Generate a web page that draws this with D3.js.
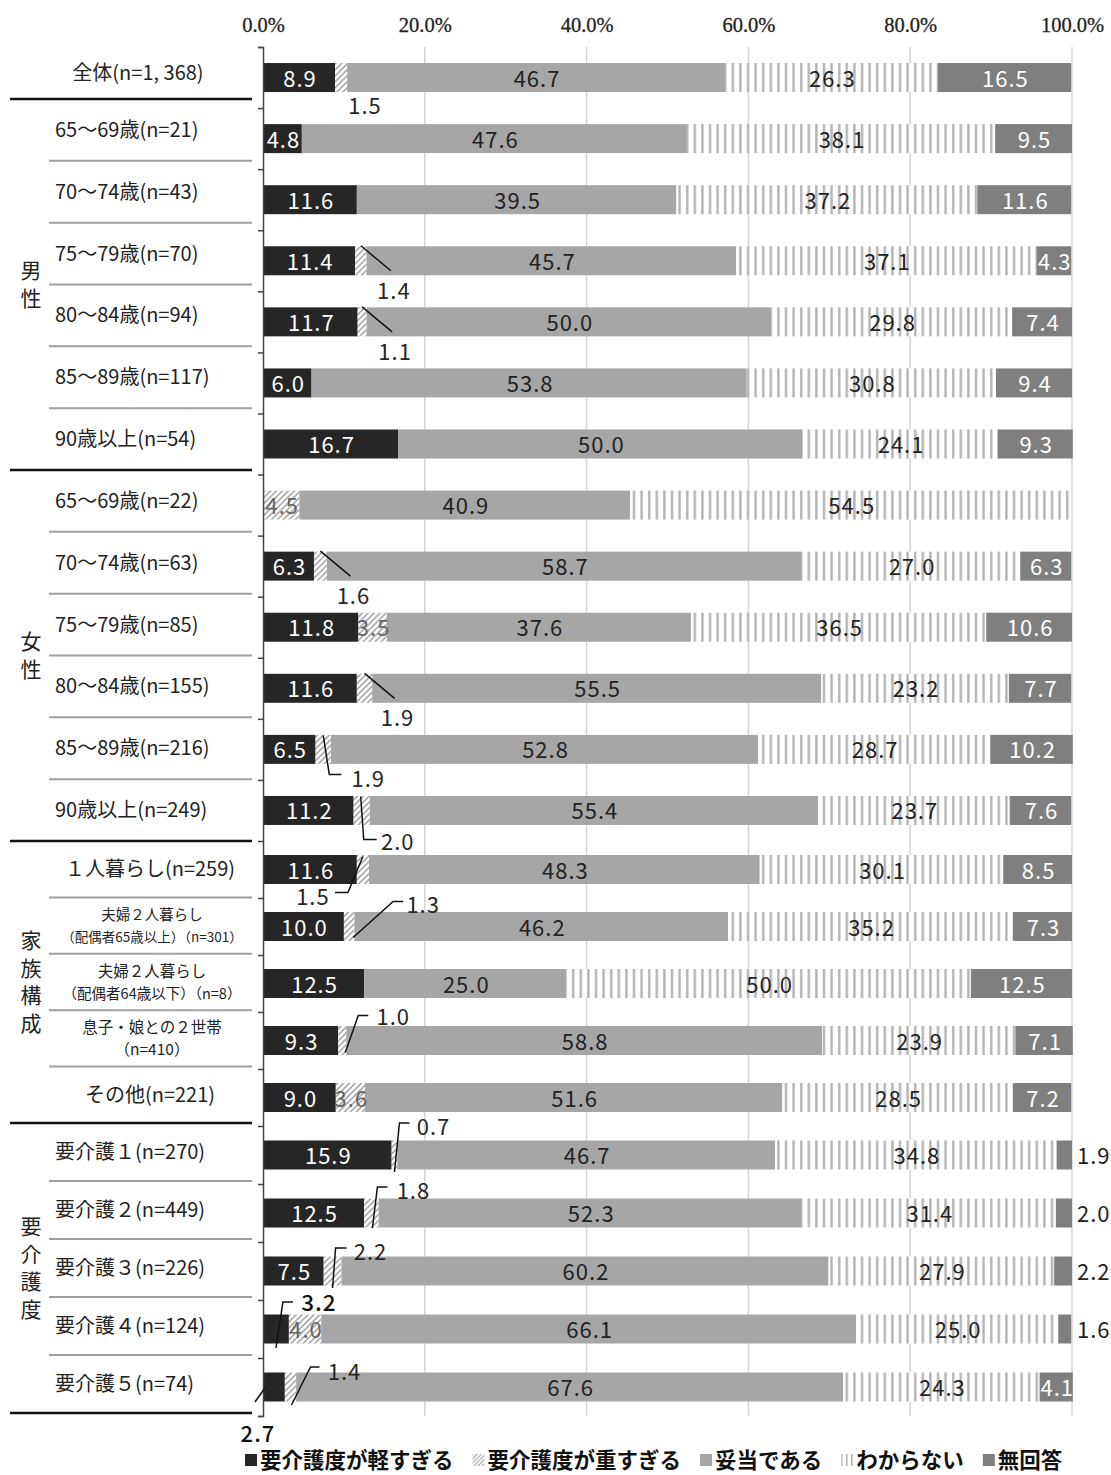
<!DOCTYPE html>
<html><head><meta charset="utf-8">
<script src="https://cdn.jsdelivr.net/npm/d3@7/dist/d3.min.js"></script>
<style>
html,body{margin:0;padding:0;background:#fff;}
svg{display:block;}
</style>
</head><body>
<svg id="chart" width="1111" height="1475"></svg>
<script>
// ---------------- DATA ----------------
const rowLabels = [
  "全体(n=1, 368)",
  "65～69歳(n=21)", "70～74歳(n=43)", "75～79歳(n=70)", "80～84歳(n=94)", "85～89歳(n=117)", "90歳以上(n=54)",
  "65～69歳(n=22)", "70～74歳(n=63)", "75～79歳(n=85)", "80～84歳(n=155)", "85～89歳(n=216)", "90歳以上(n=249)",
  "１人暮らし(n=259)", "夫婦２人暮らし|（配偶者65歳以上）（n=301）", "夫婦２人暮らし|（配偶者64歳以下）（n=8）",
  "息子・娘との２世帯|（n=410）", "その他(n=221)",
  "要介護１(n=270)", "要介護２(n=449)", "要介護３(n=226)", "要介護４(n=124)", "要介護５(n=74)"
];
const groupNames = ["男性", "女性", "家族構成", "要介護度"];
const groupFirstRow = [1, 7, 13, 18];
const groupLastRow  = [6, 12, 17, 22];

const seriesNames = ["要介護度が軽すぎる", "要介護度が重すぎる", "妥当である", "わからない", "無回答"];
const tooLight    = [8.9, 4.8, 11.6, 11.4, 11.7, 6.0, 16.7, 0,   6.3, 11.8, 11.6, 6.5, 11.2, 11.6, 10.0, 12.5, 9.3, 9.0, 15.9, 12.5, 7.5, 3.2, 2.7];
const tooHeavy    = [1.5, 0,   0,    1.4,  1.1,  0,   0,    4.5, 1.6, 3.5,  1.9,  1.9, 2.0,  1.5,  1.3,  0,    1.0, 3.6, 0.7,  1.8,  2.2, 4.0, 1.4];
const appropriate = [46.7, 47.6, 39.5, 45.7, 50.0, 53.8, 50.0, 40.9, 58.7, 37.6, 55.5, 52.8, 55.4, 48.3, 46.2, 25.0, 58.8, 51.6, 46.7, 52.3, 60.2, 66.1, 67.6];
const unknown     = [26.3, 38.1, 37.2, 37.1, 29.8, 30.8, 24.1, 54.5, 27.0, 36.5, 23.2, 28.7, 23.7, 30.1, 35.2, 50.0, 23.9, 28.5, 34.8, 31.4, 27.9, 25.0, 24.3];
const noAnswer    = [16.5, 9.5, 11.6, 4.3, 7.4, 9.4, 9.3, 0, 6.3, 10.6, 7.7, 10.2, 7.6, 8.5, 7.3, 12.5, 7.1, 7.2, 1.9, 2.0, 2.2, 1.6, 4.1];
const tickValues  = [0, 20, 40, 60, 80, 100];

// ---------------- LAYOUT ----------------
const svg = d3.select("#chart");
const JP = "'Noto Sans CJK JP','Noto Sans',sans-serif";
const x = d3.scaleLinear().domain([0, 100]).range([263, 1072]);
const yb = d3.scaleLinear().domain([0, 13, 18, 23]).range([47, 841, 1126, 1416]); // bar row boundaries
const yTable = d3.scaleLinear().domain([0, 1, 7, 13, 18, 23]).range([46, 99, 470, 841, 1123, 1413]); // table rows
const rowCenter = i => (yb(i) + yb(i + 1)) / 2;
const tableCenter = i => (yTable(i) + yTable(i + 1)) / 2;
const barH = 29;

const seriesData = [tooLight, tooHeavy, appropriate, unknown, noAnswer];
const colors = ["#262626", "url(#hatch)", "#a6a6a6", "url(#stripe)", "#7f7f7f"];
const legendSwatch = ["#262626", "url(#hatchL)", "#a6a6a6", "url(#stripeL)", "#7f7f7f"];

// patterns
const defs = svg.append("defs");
const hatch = defs.append("pattern").attr("id", "hatch").attr("patternUnits", "userSpaceOnUse")
  .attr("width", 4.2).attr("height", 4.2).attr("patternTransform", "rotate(45)");
hatch.append("rect").attr("width", 4.2).attr("height", 4.2).attr("fill", "#fff");
hatch.append("rect").attr("width", 1.6).attr("height", 4.2).attr("fill", "#a8a8a8");
const hatchL = defs.append("pattern").attr("id", "hatchL").attr("patternUnits", "userSpaceOnUse")
  .attr("width", 3).attr("height", 3).attr("patternTransform", "rotate(45)");
hatchL.append("rect").attr("width", 3).attr("height", 3).attr("fill", "#fff");
hatchL.append("rect").attr("width", 1.2).attr("height", 3).attr("fill", "#a8a8a8");
const stripe = defs.append("pattern").attr("id", "stripe").attr("patternUnits", "userSpaceOnUse")
  .attr("width", 7.6).attr("height", 10);
stripe.append("rect").attr("width", 7.6).attr("height", 10).attr("fill", "#fff");
stripe.append("rect").attr("x", 2).attr("width", 2.4).attr("height", 10).attr("fill", "#b3b3b3");
const stripeL = defs.append("pattern").attr("id", "stripeL").attr("patternUnits", "userSpaceOnUse")
  .attr("width", 5).attr("height", 10);
stripeL.append("rect").attr("width", 5).attr("height", 10).attr("fill", "#fff");
stripeL.append("rect").attr("x", 1).attr("width", 1.6).attr("height", 10).attr("fill", "#b3b3b3");

// gridlines
svg.append("g").selectAll("line").data(tickValues.filter(d => d > 0)).join("line")
  .attr("x1", d => x(d)).attr("x2", d => x(d))
  .attr("y1", yb(0)).attr("y2", yb(23))
  .attr("stroke", "#d4d4d4").attr("stroke-width", 1.5);

// top axis labels
const topAxis = svg.append("g").attr("transform", "translate(0,32)")
  .call(d3.axisTop(x).tickValues(tickValues).tickFormat(d => d.toFixed(1) + "%").tickSize(0));
topAxis.select(".domain").remove();
topAxis.selectAll("text").attr("font-family", "'Liberation Serif','DejaVu Serif',serif")
  .attr("font-size", 20.5).attr("fill", "#222").attr("dy", 0).attr("y", 0)
  .attr("stroke", "#222").attr("stroke-width", 0.3);

// stacked data
const stacked = rowLabels.map((lab, i) => {
  let acc = 0;
  return seriesData.map((arr, s) => {
    const v = arr[i];
    const seg = { row: i, s, v, x0: acc, x1: acc + v };
    acc += v;
    return seg;
  });
});

// bars
const barG = svg.append("g");
barG.selectAll("g").data(stacked).join("g")
  .selectAll("rect").data(d => d.filter(e => e.v > 0)).join("rect")
  .attr("x", d => x(d.x0)).attr("width", d => x(d.x1) - x(d.x0))
  .attr("y", d => rowCenter(d.row) - barH / 2).attr("height", barH)
  .attr("fill", d => colors[d.s]);

// left axis
const leftAxis = svg.append("g").attr("transform", `translate(${x(0)},0)`)
  .call(d3.axisLeft(yb).tickValues(d3.range(0, 24)).tickFormat("").tickSize(5).tickSizeOuter(5));
leftAxis.select(".domain").attr("stroke", "#444").attr("stroke-width", 1.5);
leftAxis.selectAll(".tick line").attr("stroke", "#444").attr("stroke-width", 1.5);

// table lines
const blackLines = [1, 7, 13, 18, 23];
svg.append("g").selectAll("line").data(d3.range(2, 23).filter(i => !blackLines.includes(i))).join("line")
  .attr("x1", 49).attr("x2", 252).attr("y1", d => yTable(d)).attr("y2", d => yTable(d))
  .attr("stroke", "#a0a0a0").attr("stroke-width", 2);
svg.append("g").selectAll("line").data(blackLines).join("line")
  .attr("x1", 10).attr("x2", 252).attr("y1", d => yTable(d)).attr("y2", d => yTable(d))
  .attr("stroke", "#111").attr("stroke-width", 2.5);

// row labels
const lblG = svg.append("g").attr("font-family", JP).attr("fill", "#222");
rowLabels.forEach((lab, i) => {
  const cy = i === 0 ? 73 : tableCenter(i);
  const isLeft = (i >= 1 && i <= 12) || i >= 18;
  if (lab.includes("|")) {
    const [l1, l2] = lab.split("|");
    const small = i === 14;
    lblG.append("text").attr("x", 152).attr("y", cy - 11 + 5.5).attr("text-anchor", "middle")
      .attr("font-size", small ? 14.5 : 15.5).text(l1);
    lblG.append("text").attr("x", 152).attr("y", cy + 11 + 5.5).attr("text-anchor", "middle")
      .attr("font-size", small ? 13.5 : (i === 15 ? 14.5 : 15.5)).text(l2);
  } else {
    lblG.append("text").attr("x", isLeft ? 55 : (i === 0 ? 138 : 150)).attr("y", cy + 7)
      .attr("text-anchor", isLeft ? "start" : "middle").attr("font-size", 20).text(lab);
  }
});

// group labels (vertical)
groupNames.forEach((g, k) => {
  const c = (yTable(groupFirstRow[k]) + yTable(groupLastRow[k] + 1)) / 2;
  const chars = Array.from(g);
  const step = 27.5;
  chars.forEach((ch, j) => {
    lblG.append("text").attr("x", 31).attr("y", c + (j - (chars.length - 1) / 2) * step + 7.5)
      .attr("text-anchor", "middle").attr("font-size", 21).text(ch);
  });
});

// value labels
const callouts = {
  "0-1":  { line: null, label: [24, 28] },
  "3-1":  { line: [[0, -15], [30, 10]], label: [33, 30] },
  "4-1":  { line: [[0, -15], [30, 10]], label: [33, 30] },
  "8-1":  { line: [[0, -15], [30, 10]], label: [33, 30] },
  "10-1": { line: [[0, -15], [30, 10]], label: [33, 30] },
  "11-1": { line: [[0, -14], [6, 25], [18, 25]], label: [45, 30] },
  "12-1": { line: [[-1, -14], [2, 29], [15, 29]], label: [36, 32] },
  "13-1": { line: [[0, -13], [-15, 23], [-28, 23]], label: [-50, 27] },
  "14-1": { line: [[4, 11], [44, -25], [54, -25]], label: [74, -22] },
  "16-1": { line: [[3, 12], [16, -25], [26, -25]], label: [51, -24] },
  "18-1": { line: [[0, 17], [5, -32], [15, -32]], label: [39, -28] },
  "19-1": { line: [[1, 15], [6, -26], [16, -26]], label: [42, -22] },
  "20-1": { line: [[0, 17], [3, -23], [14, -23]], label: [38, -19] },
  "21-0": { line: [[0, 19], [7, -27], [17, -27]], label: [43, -26], size: 22.5 },
  "22-0": { line: [[-9, 1], [-19, 15]], label: [-16, 47], size: 22 },
  "22-1": { line: [[1, 18], [20, -20], [29, -20]], label: [54, -15] }
};
const textColor = ["#fff", "#666", "#222", "#222", "#fff"];
const valG = svg.append("g").attr("font-family", JP).attr("font-size", 22);
const lineGen = d3.line();
stacked.flat().filter(d => d.v > 0).forEach(d => {
  const cx = (x(d.x0) + x(d.x1)) / 2;
  const cy = rowCenter(d.row);
  const key = d.row + "-" + d.s;
  const txt = d.v.toFixed(1);
  if (callouts[key]) {
    const c = callouts[key];
    if (c.line) {
      valG.append("path").attr("d", lineGen(c.line.map(p => [cx + p[0], cy + p[1]])))
        .attr("fill", "none").attr("stroke", "#111").attr("stroke-width", 1.5);
    }
    const t = valG.append("text").attr("x", cx + c.label[0]).attr("y", cy + c.label[1] + 8)
      .attr("text-anchor", "middle").attr("fill", "#262626").attr("letter-spacing", 1).text(txt);
    if (c.size) t.attr("font-size", c.size).attr("fill", "#111").attr("font-weight", 500);
  } else if (d.s === 4 && d.v < 3) {
    valG.append("text").attr("x", x(100) + 5).attr("y", cy + 9)
      .attr("text-anchor", "start").attr("fill", "#222").attr("letter-spacing", 1).text(txt);
  } else {
    valG.append("text").attr("x", cx + 1).attr("y", cy + 9)
      .attr("text-anchor", "middle").attr("fill", textColor[d.s]).attr("letter-spacing", 1).text(txt);
  }
});

// legend
const leg = svg.append("g").attr("font-family", JP).attr("font-size", 21.5).attr("font-weight", 700);
let lx = 245;
const ly = 1461;
seriesNames.forEach((name, s) => {
  leg.append("rect").attr("x", lx).attr("y", ly - 7).attr("width", 12).attr("height", 12)
    .attr("fill", legendSwatch[s]);
  lx += 15;
  const t = leg.append("text").attr("x", lx).attr("y", ly + 7).attr("fill", "#111").text(name);
  lx += t.node().getComputedTextLength() + 19;
});
</script>
</body></html>
